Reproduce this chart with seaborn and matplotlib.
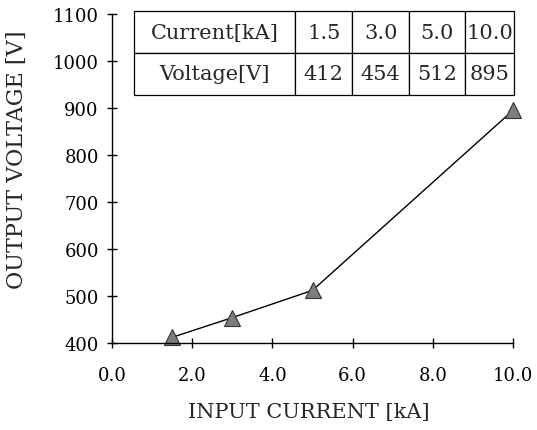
import matplotlib
matplotlib.use("Agg")
import matplotlib.pyplot as plt
import seaborn as sns
import pandas as pd

# data
current_ka = [1.5, 3.0, 5.0, 10.0]
voltage_v = [412, 454, 512, 895]
current_labels = ["1.5", "3.0", "5.0", "10.0"]
voltage_labels = ["412", "454", "512", "895"]
x_ticks = [0, 2, 4, 6, 8, 10]
y_ticks = [400, 500, 600, 700, 800, 900, 1000, 1100]

sns.set_style("ticks")
plt.rcParams["font.family"] = ["DejaVu Serif"]

df = pd.DataFrame({"current": current_ka, "voltage": voltage_v})

fig = plt.figure(figsize=(5.37, 4.31), dpi=100)
ax = fig.add_axes([0.2086, 0.2019, 0.7467, 0.7633])

sns.lineplot(data=df, x="current", y="voltage", ax=ax, color="black", lw=1,
             marker="^", markersize=11, markerfacecolor="#7d7d7d",
             markeredgecolor="#333333", markeredgewidth=0.8, clip_on=False)

ax.set_xlim(0, 10)
ax.set_ylim(400, 1100)
ax.set_xticks(x_ticks)
ax.set_xticklabels([f"{t:.1f}" for t in x_ticks])
ax.set_yticks(y_ticks)
ax.tick_params(direction="inout", length=7, width=1, labelsize=13, colors="black", pad=6)
ax.tick_params(axis="x", pad=13)
for s in ["top", "right"]:
    ax.spines[s].set_visible(False)
for s in ["left", "bottom"]:
    ax.spines[s].set_linewidth(1)
    ax.spines[s].set_color("black")

ax.set_xlabel("INPUT CURRENT [kA]", fontsize=15)
ax.set_ylabel("OUTPUT VOLTAGE [V]", fontsize=16)
ax.xaxis.set_label_coords(0.49, -0.18)
ax.yaxis.set_label_coords(-0.21, 0.56)

cells = [["Current[kA]"] + current_labels, ["Voltage[V]"] + voltage_labels]
tbl = ax.table(cellText=cells, cellLoc="center",
               colWidths=[161, 57, 57, 56, 49],
               bbox=[0.055, 0.754, 0.948, 0.255])
tbl.auto_set_font_size(False)
tbl.set_fontsize(15)
for cell in tbl.get_celld().values():
    cell.set_linewidth(0.9)
    cell.set_edgecolor("black")

fig.savefig("out.png", dpi=100)
